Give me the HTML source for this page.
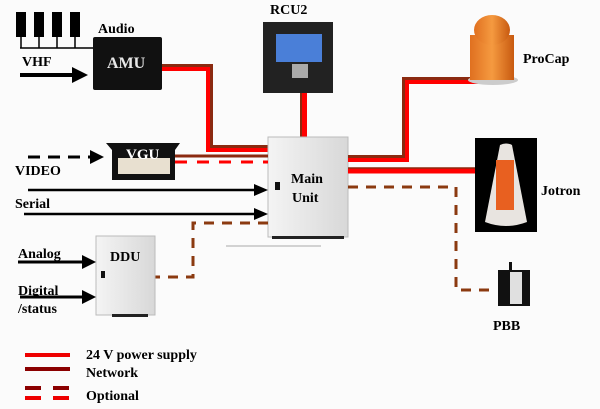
<!DOCTYPE html>
<html><head><style>
body{margin:0;background:#fbfbfb}
svg{display:block}
text{font-family:"Liberation Serif",serif;font-weight:bold;font-size:14px;fill:#000}
</style></head><body>
<svg width="600" height="409" viewBox="0 0 600 409">
<defs>
<linearGradient id="g1" x1="0" x2="1"><stop offset="0" stop-color="#f4f4f4"/><stop offset="1" stop-color="#d8d8d8"/></linearGradient>
<linearGradient id="or" x1="0" x2="1"><stop offset="0" stop-color="#e07020"/><stop offset=".5" stop-color="#f59a40"/><stop offset="1" stop-color="#c85a10"/></linearGradient>
</defs>
<g fill="#000"><rect x="16" y="12" width="10" height="25"/><rect x="34" y="12" width="10" height="25"/><rect x="52" y="12" width="10" height="25"/><rect x="70" y="12" width="10" height="25"/></g>
<g stroke="#000" stroke-width="1.5"><line x1="21" y1="37" x2="21" y2="48"/><line x1="39" y1="37" x2="39" y2="48"/><line x1="57" y1="37" x2="57" y2="48"/><line x1="75" y1="37" x2="75" y2="48"/><line x1="20" y1="48" x2="95" y2="48"/></g>
<text x="22" y="66">VHF</text>
<line x1="20" y1="75" x2="74" y2="75" stroke="#000" stroke-width="4"/>
<path d="M72,67 L88,75 L72,83 Z"/>
<text x="98" y="33">Audio</text>
<rect x="93" y="37" width="69" height="53" rx="2" fill="#111"/>
<text x="107" y="68" style="fill:#e8e8e8;font-size:16px">AMU</text>
<path d="M162,67 H210 V148 H268" fill="none" stroke="#8b2a10" stroke-width="6"/>
<path d="M162,69 H208 V150 H268" fill="none" stroke="#f00" stroke-width="4"/>
<text x="270" y="14">RCU2</text>
<rect x="263" y="22" width="70" height="71" fill="#222"/>
<rect x="276" y="34" width="46" height="28" fill="#4a7fd8"/>
<rect x="292" y="64" width="16" height="14" fill="#aaa"/>
<rect x="302" y="93" width="5" height="44" fill="#f00"/>
<rect x="300" y="93" width="2" height="44" fill="#8b2a10"/>
<rect x="268" y="137" width="80" height="100" fill="url(#g1)" stroke="#bbb"/>
<rect x="272" y="236" width="72" height="3" fill="#222"/>
<rect x="275" y="182" width="5" height="8" fill="#111"/>
<text x="291" y="183">Main</text>
<text x="292" y="202">Unit</text>
<line x1="226" y1="246" x2="321" y2="246" stroke="#aaa"/>
<path d="M106,143 H180 L175,150 V180 H112 V150 Z" fill="#111"/>
<rect x="118" y="158" width="52" height="16" fill="#e8e0d0"/>
<text x="126" y="159" style="fill:#fff;font-size:15px">VGU</text>
<line x1="28" y1="157" x2="92" y2="157" stroke="#000" stroke-width="3" stroke-dasharray="12,8"/>
<path d="M90,150 L104,157 L90,164 Z"/>
<line x1="175" y1="156" x2="268" y2="156" stroke="#8b2a10" stroke-width="3"/>
<line x1="175" y1="162" x2="268" y2="162" stroke="#f00" stroke-width="3" stroke-dasharray="12,10"/>
<text x="15" y="175">VIDEO</text>
<line x1="28" y1="190" x2="256" y2="190" stroke="#000" stroke-width="2.5"/>
<path d="M254,184 L268,190 L254,196 Z"/>
<text x="15" y="208">Serial</text>
<line x1="24" y1="214" x2="256" y2="214" stroke="#000" stroke-width="2.5"/>
<path d="M254,208 L268,214 L254,220 Z"/>
<path d="M268,223 H193 V277 H155" fill="none" stroke="#8b3a10" stroke-width="3" stroke-dasharray="10,8"/>
<rect x="96" y="236" width="59" height="79" fill="url(#g1)" stroke="#bbb"/>
<rect x="112" y="314" width="36" height="3" fill="#222"/>
<rect x="101" y="271" width="4" height="7" fill="#111"/>
<text x="110" y="261">DDU</text>
<text x="18" y="258">Analog</text>
<line x1="18" y1="262" x2="84" y2="262" stroke="#000" stroke-width="3"/>
<path d="M82,255 L96,262 L82,269 Z"/>
<text x="18" y="295">Digital</text>
<text x="18" y="313">/status</text>
<line x1="20" y1="297" x2="84" y2="297" stroke="#000" stroke-width="3"/>
<path d="M82,290 L96,297 L82,304 Z"/>
<path d="M348,158 H405 V80 H478" fill="none" stroke="#8b2a10" stroke-width="6"/>
<path d="M348,160 H407 V82 H478" fill="none" stroke="#f00" stroke-width="4"/>
<line x1="348" y1="171" x2="475" y2="171" stroke="#f00" stroke-width="5"/>
<line x1="348" y1="168" x2="475" y2="168" stroke="#8b2a10" stroke-width="1.5"/>
<path d="M348,187 H456 V290 H495" fill="none" stroke="#8b3a10" stroke-width="3" stroke-dasharray="10,8"/>
<ellipse cx="493" cy="80" rx="25" ry="5" fill="#ccc"/>
<rect x="470" y="35" width="44" height="45" fill="url(#or)"/>
<ellipse cx="492" cy="30" rx="18" ry="15" fill="url(#or)"/>
<text x="523" y="63">ProCap</text>
<rect x="475" y="138" width="62" height="94" fill="#000"/>
<path d="M500,145 Q506,142 512,145 L527,222 Q506,230 485,222 Z" fill="#e8e4e0"/>
<rect x="496" y="160" width="18" height="50" fill="#e86020"/>
<text x="541" y="195">Jotron</text>
<rect x="498" y="270" width="32" height="36" fill="#111"/>
<rect x="510" y="272" width="12" height="32" fill="#e0e0e0"/>
<rect x="509" y="262" width="3" height="10" fill="#111"/>
<text x="493" y="330">PBB</text>
<line x1="25" y1="355" x2="70" y2="355" stroke="#e00" stroke-width="4"/>
<line x1="25" y1="369" x2="70" y2="369" stroke="#8b0000" stroke-width="4"/>
<line x1="25" y1="388" x2="70" y2="388" stroke="#8b0000" stroke-width="4" stroke-dasharray="16,12"/>
<line x1="25" y1="398" x2="70" y2="398" stroke="#e00" stroke-width="4" stroke-dasharray="16,12"/>
<text x="86" y="359">24 V power supply</text>
<text x="86" y="377">Network</text>
<text x="86" y="400">Optional</text>
</svg>
</body></html>
